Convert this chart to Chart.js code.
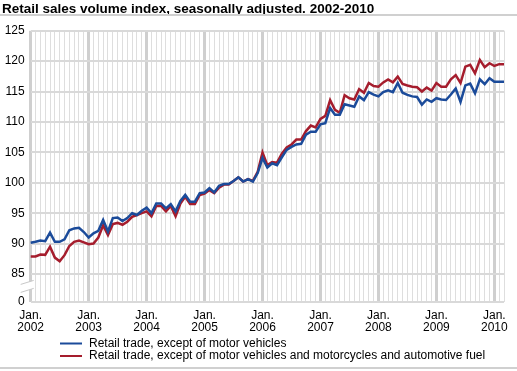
<!DOCTYPE html>
<html>
<head>
<meta charset="utf-8">
<script src="https://cdn.jsdelivr.net/npm/chart.js@4.4.0/dist/chart.umd.min.js"></script>
<style>
  html, body { margin: 0; padding: 0; background: #fff; }
  #wrap { width: 517px; height: 371px; position: relative; }
</style>
</head>
<body>
<div id="wrap"><canvas id="salesChart"></canvas></div>
<script>
const titleText = "Retail sales volume index, seasonally adjusted. 2002-2010";
const startYear = 2002;
const monthCount = 99; // Jan 2002 - Mar 2010

// one value per month
const exceptMotorVehicles = [
  90.15, 90.3, 90.5, 90.4, 91.8, 90.3, 90.3, 90.7, 92.2, 92.5, 92.6, 91.9,
  91.0, 91.7, 92.1, 93.9, 92.0, 94.2, 94.3, 93.7, 94.2, 95.0, 94.7, 95.4,
  95.9, 95.0, 96.6, 96.6, 95.8, 96.5, 95.3, 97.0, 98.0, 96.9, 96.9, 98.3,
  98.4, 99.1, 98.4, 99.5, 99.8, 99.8, 100.3, 100.9, 100.2, 100.6, 100.2, 101.6,
  104.1, 102.5, 103.2, 102.9, 104.2, 105.4, 105.9, 106.3, 106.4, 107.9, 108.4, 108.4,
  109.6, 109.8, 112.3, 111.2, 111.2, 112.9, 112.7, 112.5, 114.2, 113.6, 114.9, 114.5,
  114.2, 114.9, 115.2, 114.9, 116.4, 114.8, 114.45, 114.2, 114.1, 112.85, 113.7, 113.3,
  113.9, 113.7, 113.6, 114.5, 115.5, 113.3, 116.0, 116.3, 114.7, 117.0, 116.2, 117.2,
  116.6, 116.6, 116.6
];
const exceptMotorAndFuel = [
  87.9, 87.9, 88.2, 88.15, 89.5, 87.7, 87.1, 88.1, 89.6, 90.3, 90.5, 90.2,
  89.9, 90.0, 91.0, 93.0, 91.4, 93.2, 93.4, 93.1, 93.6, 94.4, 94.7, 95.0,
  95.3, 94.5, 96.2, 96.2, 95.3, 96.2, 94.5, 96.6, 97.7, 96.5, 96.5, 98.0,
  98.2, 98.8, 98.3, 99.2, 99.7, 99.7, 100.3, 100.9, 100.2, 100.6, 100.3, 101.8,
  105.0, 102.9, 103.4, 103.3, 104.8, 105.8, 106.3, 107.1, 107.1, 108.5, 109.4, 109.1,
  110.5, 111.0, 113.6, 112.0, 111.5, 114.4, 113.9, 113.7, 115.4, 114.8, 116.4, 115.9,
  115.8, 116.5, 117.0, 116.5, 117.45, 116.25, 116.0, 115.8, 115.7, 115.0, 115.65, 115.15,
  116.4, 115.8, 115.8, 117.0, 117.7, 116.4, 119.1, 119.4, 118.0, 120.2, 119.0, 119.65,
  119.2, 119.5, 119.5
];
const seriesNames = [
  "Retail trade, except of motor vehicles",
  "Retail trade, except of motor vehicles and motorcycles and automotive fuel"
];
const seriesColors = ["#1b4b9a", "#a51d2d"];

// broken axis: the bottom tick stands for 0, the rest run 85-125
const yTickValues = [85, 90, 95, 100, 105, 110, 115, 120, 125];
const yBreakValue = 80.4;
const yBreakLabel = "0";

const months = [];
for (let i = 0; i < monthCount; i++) {
  const y = startYear + Math.floor(i / 12);
  const m = (i % 12) + 1;
  months.push(y + "M" + (m < 10 ? "0" + m : m));
}

const FONT = "Arial, 'Liberation Sans', sans-serif";

const decorations = {
  id: "decorations",
  beforeDraw(chart) {
    const ctx = chart.ctx;
    ctx.save();
    ctx.fillStyle = "#fff";
    ctx.fillRect(0, 0, chart.width, chart.height);
    ctx.restore();
  },
  afterDraw(chart) {
    const ctx = chart.ctx;
    const area = chart.chartArea;
    ctx.save();
    // rules above and below
    ctx.fillStyle = "#d0d0d0";
    ctx.fillRect(0, 14, chart.width, 2);
    ctx.fillRect(0, 367, chart.width, 2);

    // axis break marks
    const yb = chart.scales.y.getPixelForValue(82.8);
    ctx.fillStyle = "#fff";
    ctx.beginPath();
    ctx.moveTo(area.left - 10, yb - 3);
    ctx.lineTo(area.left + 3, yb - 7);
    ctx.lineTo(area.left + 3, yb + 1);
    ctx.lineTo(area.left - 10, yb + 5);
    ctx.closePath();
    ctx.fill();
    ctx.strokeStyle = "#c8c8c8";
    ctx.lineWidth = 1;
    ctx.beginPath();
    ctx.moveTo(area.left - 10, yb - 3);
    ctx.lineTo(area.left + 3, yb - 7);
    ctx.moveTo(area.left - 10, yb + 5);
    ctx.lineTo(area.left + 3, yb + 1);
    ctx.stroke();

    // legend
    ctx.font = "12px " + FONT;
    ctx.textBaseline = "middle";
    ctx.textAlign = "left";
    chart.data.datasets.forEach((ds, i) => {
      const ly = 343.5 + i * 12.5;
      ctx.strokeStyle = ds.borderColor;
      ctx.lineWidth = 2;
      ctx.beginPath();
      ctx.moveTo(60, ly);
      ctx.lineTo(82, ly);
      ctx.stroke();
      ctx.fillStyle = "#000";
      ctx.fillText(ds.label, 89, ly);
    });
    ctx.restore();
  }
};

new Chart(document.getElementById("salesChart"), {
  type: "line",
  data: {
    labels: months,
    datasets: [
      {
        label: seriesNames[0],
        data: exceptMotorVehicles,
        borderColor: seriesColors[0],
        backgroundColor: seriesColors[0],
        borderWidth: 2.5,
        pointRadius: 0,
        tension: 0
      },
      {
        label: seriesNames[1],
        data: exceptMotorAndFuel,
        borderColor: seriesColors[1],
        backgroundColor: seriesColors[1],
        borderWidth: 2.5,
        pointRadius: 0,
        tension: 0
      }
    ]
  },
  options: {
    responsive: true,
    maintainAspectRatio: false,
    animation: false,
    layout: { padding: { left: 2, right: 13, top: 0, bottom: 35 } },
    plugins: {
      legend: { display: false },
      tooltip: { enabled: false },
      title: {
        display: true,
        text: titleText,
        align: "start",
        color: "#000",
        font: { family: FONT, size: 13.5, weight: "bold" },
        padding: { top: 1.5, bottom: 13 }
      }
    },
    scales: {
      x: {
        offset: false,
        afterFit(scale) { scale.height = 34; },
        border: { display: false },
        grid: {
          drawTicks: false,
          color: (c) => (c.index % 12 === 0 ? "#cfcfcf" : "#dedede"),
          lineWidth: (c) => (c.index % 12 === 0 ? 3 : 1)
        },
        ticks: {
          autoSkip: false,
          maxRotation: 0,
          padding: 8,
          color: "#000",
          font: { family: FONT, size: 12, lineHeight: 1 },
          callback: (v, i) => (i % 12 === 0 ? ["Jan.", String(startYear + i / 12)] : "")
        }
      },
      y: {
        min: yBreakValue,
        max: 125,
        afterFit(scale) { scale.width = 28.7; },
        afterBuildTicks(scale) {
          scale.ticks = [yBreakValue].concat(yTickValues).map((v) => ({ value: v }));
        },
        border: { display: false },
        grid: {
          drawTicks: false,
          color: "#d9d9d9",
          lineWidth: 2
        },
        ticks: {
          padding: 6,
          color: "#000",
          font: { family: FONT, size: 12 },
          callback: (v) => (v < 85 ? yBreakLabel : String(v))
        }
      }
    }
  },
  plugins: [decorations]
});
</script>
</body>
</html>
